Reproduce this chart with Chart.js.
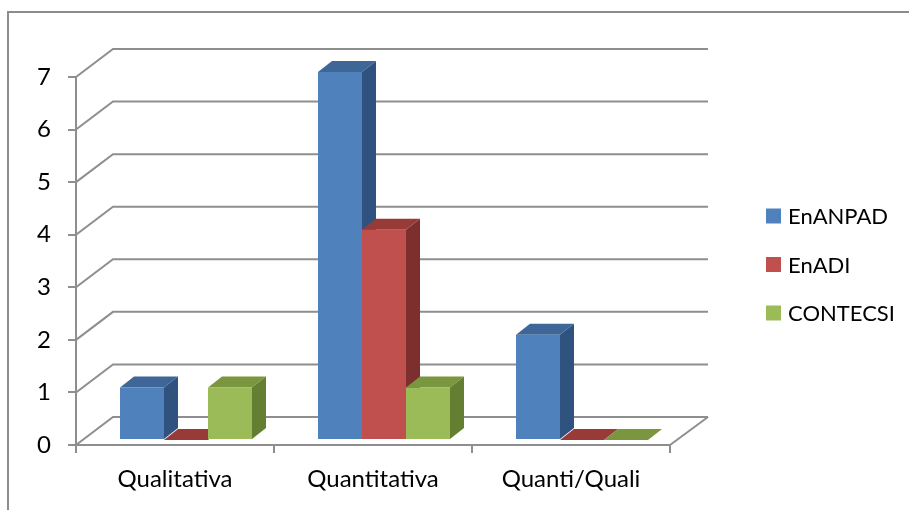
<!DOCTYPE html>
<html>
<head>
<meta charset="utf-8">
<script src="https://cdn.jsdelivr.net/npm/chart.js@4.4.1/dist/chart.umd.min.js"></script>
<style>
  html, body { margin: 0; padding: 0; background: #fff; }
  canvas { display: block; }
</style>
</head>
<body>
<canvas id="c" width="909" height="510"></canvas>
<script>
// Chart data
const categories = ['Qualitativa', 'Quantitativa', 'Quanti/Quali'];
const enanpad = [1, 7, 2];
const enadi = [0, 4, 0];
const contecsi = [1, 1, 0];
const seriesNames = ['EnANPAD', 'EnADI', 'CONTECSI'];
const yTicks = [0, 1, 2, 3, 4, 5, 6, 7];

// Look
const FRONT = ['#4f81bd', '#c0504d', '#9bbb59'];
const TOP = ['#3e6798', '#983b38', '#7a963f'];
const SIDE = ['#30527e', '#7d2f2d', '#647f31'];
const FONT = 'Lato, "Open Sans", sans-serif';
const TEXT_SIZE = 24;
const LEGEND_SIZE = 22;
const GRID = '#8e8e8e';

// Oblique depth of the walls and of the bars
const WALL_DX = 37, WALL_DY = -28, BACK_RIGHT = 708;
const BAR_DX = 14, BAR_DY = -11, BAR_SHIFT_X = 11, BAR_SHIFT_Y = -5;

const threeD = {
  id: 'threeD',
  beforeDraw(chart) {
    const { ctx, chartArea: a, scales: { y } } = chart;
    ctx.save();
    // outer frame
    ctx.strokeStyle = '#8c8c8c';
    ctx.lineWidth = 2;
    ctx.beginPath();
    ctx.moveTo(8, 520); ctx.lineTo(8, 12); ctx.lineTo(920, 12);
    ctx.stroke();
    // side wall + back wall gridlines
    ctx.strokeStyle = GRID;
    ctx.lineWidth = 2;
    yTicks.forEach(v => {
      const py = y.getPixelForValue(v);
      ctx.beginPath();
      ctx.moveTo(a.left, py);
      ctx.lineTo(a.left + WALL_DX, py + WALL_DY);
      ctx.lineTo(BACK_RIGHT, py + WALL_DY);
      ctx.stroke();
    });
    // floor right edge
    ctx.beginPath();
    ctx.moveTo(a.right, a.bottom);
    ctx.lineTo(BACK_RIGHT, a.bottom + WALL_DY);
    ctx.stroke();
    ctx.restore();
  },
  beforeDatasetsDraw(chart) {
    const ctx = chart.ctx;
    ctx.save();
    ctx.translate(BAR_SHIFT_X, BAR_SHIFT_Y);
    const bars = [];
    chart.data.datasets.forEach((ds, i) => {
      chart.getDatasetMeta(i).data.forEach(el => bars.push({ el, i }));
    });
    bars.sort((p, q) => p.el.x - q.el.x);
    bars.forEach(({ el, i }) => {
      const { x, y, base, width } = el.getProps(['x', 'y', 'base', 'width'], true);
      const l = x - width / 2, r = x + width / 2;
      ctx.fillStyle = TOP[i];
      ctx.beginPath();
      ctx.moveTo(l, y);
      ctx.lineTo(l + BAR_DX, y + BAR_DY);
      ctx.lineTo(r + BAR_DX, y + BAR_DY);
      ctx.lineTo(r, y);
      ctx.closePath();
      ctx.fill();
      if (base - y > 0.5) {
        ctx.fillStyle = SIDE[i];
        ctx.beginPath();
        ctx.moveTo(r, y);
        ctx.lineTo(r + BAR_DX, y + BAR_DY);
        ctx.lineTo(r + BAR_DX, base + BAR_DY);
        ctx.lineTo(r, base);
        ctx.closePath();
        ctx.fill();
      }
    });
  },
  afterDatasetsDraw(chart) {
    chart.ctx.restore();
  },
  afterDraw(chart) {
    const ctx = chart.ctx;
    ctx.save();
    ctx.font = LEGEND_SIZE + 'px ' + FONT;
    ctx.textBaseline = 'middle';
    const rows = [216, 264.5, 313];
    chart.data.datasets.forEach((ds, i) => {
      ctx.fillStyle = ds.backgroundColor;
      ctx.fillRect(766, rows[i] - 7.5, 15, 15);
      ctx.fillStyle = '#000';
      ctx.fillText(ds.label, 788, rows[i] + 1);
    });
    ctx.restore();
  }
};

new Chart(document.getElementById('c'), {
  type: 'bar',
  data: {
    labels: categories,
    datasets: [
      { label: seriesNames[0], data: enanpad, backgroundColor: FRONT[0] },
      { label: seriesNames[1], data: enadi, backgroundColor: FRONT[1] },
      { label: seriesNames[2], data: contecsi, backgroundColor: FRONT[2] }
    ]
  },
  options: {
    responsive: false,
    devicePixelRatio: 1,
    animation: false,
    events: [],
    layout: { padding: { left: 0, right: 239, top: 77, bottom: 0 } },
    datasets: {
      bar: { barPercentage: 1, categoryPercentage: 132 / 198, borderWidth: 0, clip: false }
    },
    plugins: { legend: { display: false }, tooltip: { enabled: false } },
    scales: {
      x: {
        afterFit(s) { s.height = 65; },
        grid: { display: true, drawOnChartArea: false, drawTicks: true, tickLength: 8, color: GRID, lineWidth: 2, offset: true },
        border: { display: true, color: GRID, width: 2 },
        ticks: { color: '#000', font: { family: FONT, size: TEXT_SIZE }, padding: 12 }
      },
      y: {
        min: 0, max: 7,
        afterFit(s) { s.width = 76; },
        afterBuildTicks(s) { s.ticks = yTicks.map(v => ({ value: v })); },
        grid: { display: true, drawOnChartArea: false, drawTicks: true, tickLength: 8, color: GRID, lineWidth: 2 },
        border: { display: true, color: GRID, width: 2 },
        ticks: { color: '#000', font: { family: FONT, size: TEXT_SIZE }, padding: 17 }
      }
    }
  },
  plugins: [threeD]
});
</script>
</body>
</html>
